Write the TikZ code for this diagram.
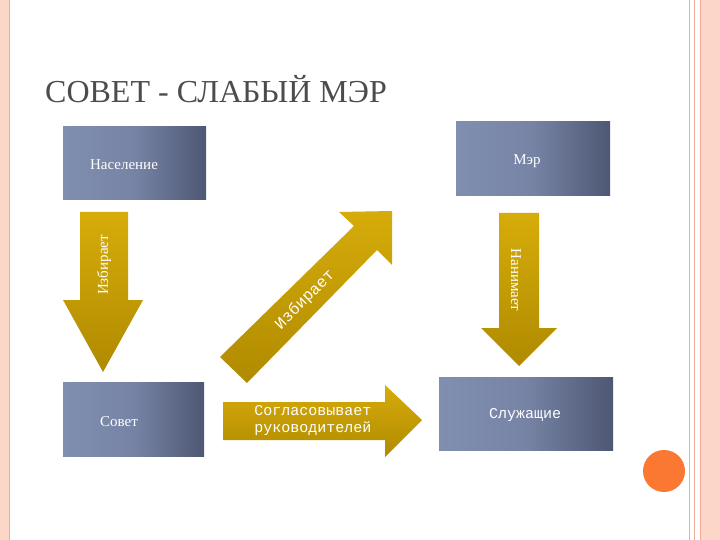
\documentclass[tikz,border=0pt]{standalone}
\usepackage{fontspec}
\setmainfont{Liberation Serif}
\newfontfamily\monof{Liberation Mono}
\definecolor{bxA}{RGB}{78,88,116}
\definecolor{bxB}{RGB}{128,142,176}
\definecolor{gdA}{RGB}{214,172,10}
\definecolor{gdB}{RGB}{176,138,0}
\definecolor{pinkA}{RGB}{252,214,198}
\definecolor{pinkL}{RGB}{240,170,150}
\definecolor{orng}{RGB}{250,120,50}
\begin{document}
\begin{tikzpicture}[x=1pt,y=-1pt,
  boxst/.style={draw=none,left color=bxB,right color=bxA,middle color=bxB!80!bxA},
  goldst/.style={draw=none,top color=gdA,bottom color=gdB},
  lbl/.style={text=white,font=\fontsize{15}{17}\selectfont}]
\useasboundingbox (0,0) rectangle (720,540);
\fill[white] (0,0) rectangle (720,540);
% borders
\fill[pinkA] (0,0) rectangle (9,540);
\draw[pinkL,line width=0.8] (9.5,0) -- (9.5,540);
\fill[pinkA] (700,0) rectangle (720,540);
\draw[pinkL,line width=0.8] (689.5,0) -- (689.5,540) (694.5,0) -- (694.5,540) (700,0)--(700,540);
% title
\node[anchor=base west,inner sep=0,text=black!70,font=\fontsize{32}{35}\selectfont] (title) at (45,103) {СОВЕТ - СЛАБЫЙ МЭР};
% boxes
\shade[boxst] (63,127) rectangle (206,200);
\node[lbl] (pop) at (124,165) {Население};
\shade[boxst] (456,122) rectangle (610,196);
\node[lbl] (mayor) at (527,161) {Мэр};
\shade[boxst] (63,382) rectangle (204,456);
\node[lbl] (sov) at (119,422) {Совет};
\shade[boxst] (439,377) rectangle (613,450);
\node[lbl,font=\monof\fontsize{15}{17}\selectfont] (sl) at (525,415) {Служащие};
% left down arrow
\shade[goldst] (80,212) -- (128,212) -- (128,300) -- (143,300) -- (103,372) -- (63,300) -- (80,300) -- cycle;
\node[lbl,rotate=90] (a1) at (104,265) {Избирает};
% right down arrow
\shade[goldst] (499,213) -- (539,213) -- (539,328) -- (557,328) -- (519,366) -- (481,328) -- (499,328) -- cycle;
\node[lbl,rotate=-90] (a2) at (516,280) {Нанимает};
% horizontal arrow
\shade[goldst] (223,402) -- (385,402) -- (385,385) -- (422,420) -- (385,457) -- (385,440) -- (223,440) -- cycle;
\node[lbl,font=\monof\fontsize{15}{17}\selectfont,align=center] (a3) at (313,421) {Согласовывает\\руководителей};
% diagonal arrow
\shade[goldst] (220,357) -- (354,226) -- (339,212) -- (392,211) -- (392,265) -- (377,250) -- (247,383) -- cycle;
\node[lbl,font=\monof\fontsize{16}{18}\selectfont,rotate=45] (a4) at (305,300) {Избирает};
% circle
\fill[orng] (664,471) circle (21);
\end{tikzpicture}
\end{document}
